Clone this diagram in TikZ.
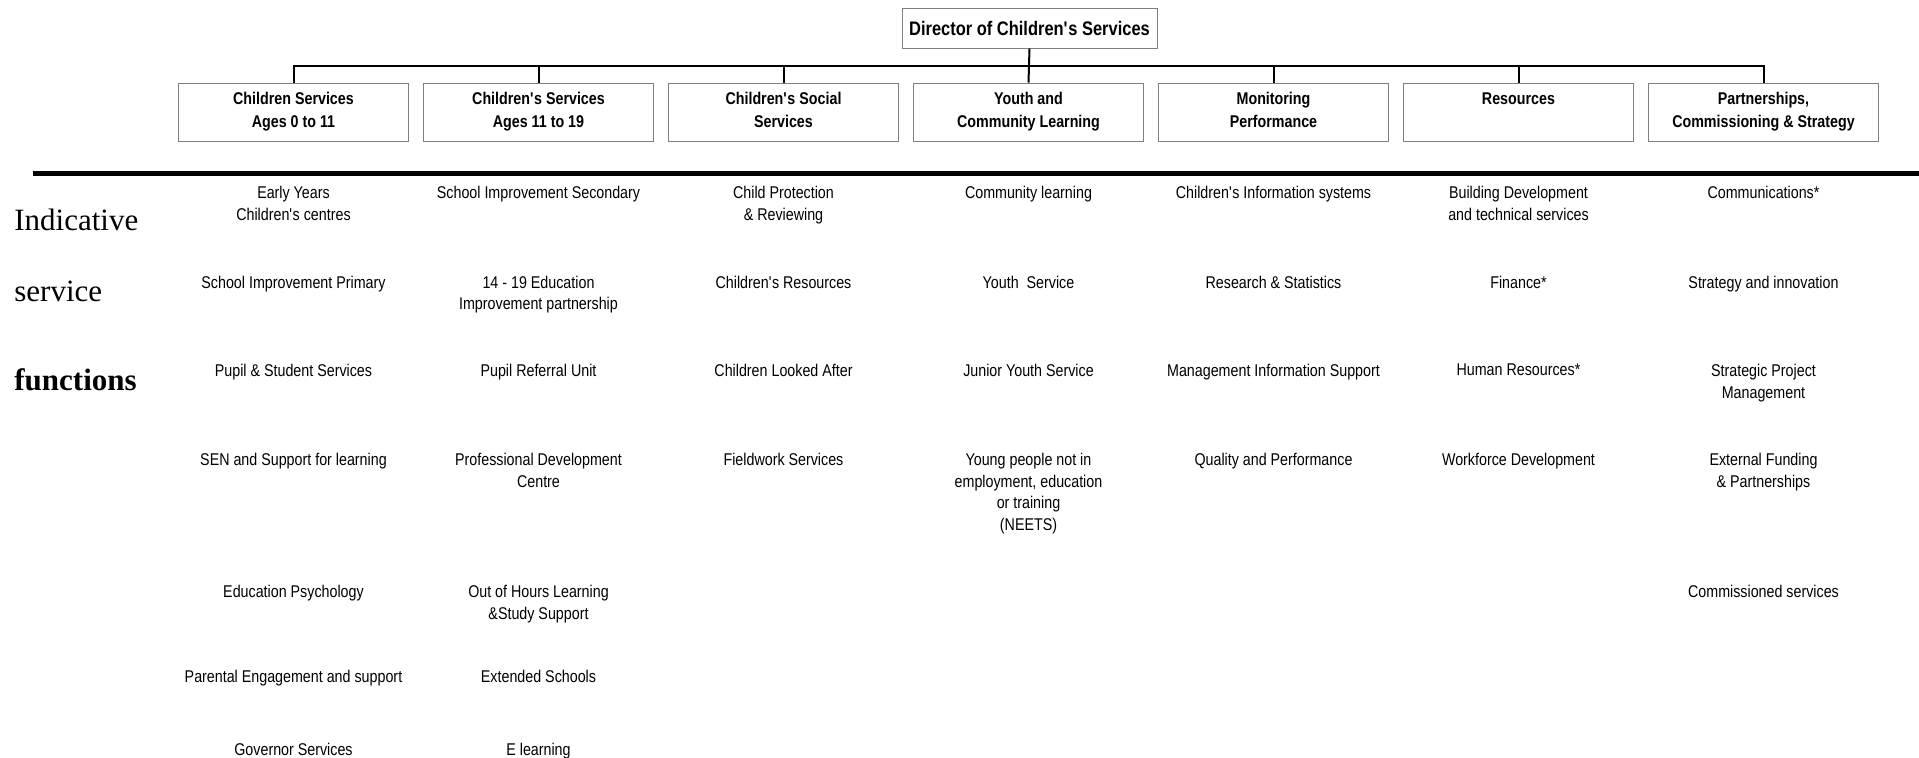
\documentclass[tikz,border=0pt]{standalone}
\usepackage{fontspec}
\setmainfont[FakeStretch=0.84]{Liberation Sans}
\newfontfamily\sidefont{Liberation Serif}
\usepackage{tikz}
\usetikzlibrary{positioning}
\definecolor{BoxGrey}{HTML}{808080}
% straight apostrophe, as typed
\newcommand{\apos}{\textquotesingle}

\begin{document}
\begin{tikzpicture}[
    x=0.5pt, y=-0.5pt,
    node distance=7pt,
    dirbox/.style={draw=BoxGrey, line width=0.5pt, minimum width=127.5pt, minimum height=20pt, inner sep=2pt, font=\fontsize{9.8}{12}\selectfont\bfseries},
    head/.style={draw=BoxGrey, line width=0.5pt, minimum width=115pt, minimum height=29pt, inner sep=2pt, align=center, font=\fontsize{8.5}{11.5}\selectfont\bfseries, execute at end node={\vphantom{g}}},
    item/.style={anchor=north, inner sep=0pt, align=center, font=\fontsize{8.5}{10.8}\selectfont},
    side/.style={anchor=base west, inner sep=0pt, font=\sidefont\fontsize{15.5}{18}\selectfont},
    link/.style={line width=1pt},
    rule/.style={line width=2.5pt}
  ]
    \useasboundingbox (0,0) rectangle (1919,757);

    % head of service and the seven divisions
    \node[dirbox] (dir) at (1029.5,28) {Director of Children\apos s Services};

    \node[head] (ages0) at (293.5,112) {Children Services\\Ages 0 to 11};
    \node[head, right=of ages0] (ages11) {Children\apos s Services\\Ages 11 to 19};
    \node[head, right=of ages11] (social) {Children\apos s Social\\Services};
    \node[head, right=of social] (youth) {Youth and\\Community Learning};
    \node[head, right=of youth] (monitor) {Monitoring\\Performance};
    \node[head, right=of monitor] (res) {Resources\\~};
    \node[head, right=of res] (pcs) {Partnerships,\\Commissioning \& Strategy};

    \coordinate (bus) at (0,66);
    \draw[link] (ages0.north) -- (ages0.north |- bus) -- (pcs.north |- bus) -- (pcs.north);
    \draw[link] (dir.south) -- (youth.north);
    \draw[link] (ages11.north |- bus) -- (ages11.north);
    \draw[link] (social.north |- bus) -- (social.north);
    \draw[link] (monitor.north |- bus) -- (monitor.north);
    \draw[link] (res.north |- bus) -- (res.north);

    % heavy divider
    \coordinate (ruleL) at (33,173.5);
    \coordinate (ruleR) at (1919,173.5);
    \draw[rule] (ruleL) -- (ruleR);

    \node[side] (ind) at (14,230) {Indicative};
    \node[side] (serv) at (14,301.7) {service};
    \node[side] (func) at (14,390) {\bfseries functions};

    % rows of functions
    \coordinate (r1) at (0,186.1);
    \coordinate (r2) at (0,275.5);
    \coordinate (r3) at (0,363.8);
    \coordinate (r4) at (0,452.8);
    \coordinate (r5) at (0,585.1);
    \coordinate (r6) at (0,669.5);
    \coordinate (r7) at (0,742.8);

    \node[item] (early) at (ages0 |- r1) {Early Years\\Children\apos s centres};
    \node[item] (sip) at (ages0 |- r2) {School Improvement Primary};
    \node[item] (pupil) at (ages0 |- r3) {Pupil \& Student Services};
    \node[item] (sen) at (ages0 |- r4) {SEN and Support for learning};
    \node[item] (edpsy) at (ages0 |- r5) {Education Psychology};
    \node[item] (parent) at (ages0 |- r6) {Parental Engagement and support};
    \node[item] (gov) at (ages0 |- r7) {Governor Services};

    \node[item] (sis) at (ages11 |- r1) {School Improvement Secondary};
    \node[item] (edu) at (ages11 |- r2) {14 - 19 Education\\Improvement partnership};
    \node[item] (pru) at (ages11 |- r3) {Pupil Referral Unit};
    \node[item] (pdc) at (ages11 |- r4) {Professional Development\\Centre};
    \node[item] (ooh) at (ages11 |- r5) {Out of Hours Learning\\\&Study Support};
    \node[item] (ext) at (ages11 |- r6) {Extended Schools};
    \node[item] (elearn) at (ages11 |- r7) {E learning};

    \node[item] (prot) at (social |- r1) {Child Protection\\\& Reviewing};
    \node[item] (cres) at (social |- r2) {Children\apos s Resources};
    \node[item] (cla) at (social |- r3) {Children Looked After};
    \node[item] (field) at (social |- r4) {Fieldwork Services};

    \node[item] (comm) at (youth |- r1) {Community learning};
    \node[item] (ysvc) at (youth |- r2) {Youth~~Service};
    \node[item] (jys) at (youth |- r3) {Junior Youth Service};
    \node[item] (neet) at (youth |- r4) {Young people not in\\employment, education\\or training\\(NEETS)};

    \node[item] (cis) at (monitor |- r1) {Children\apos s Information systems};
    \node[item] (rstat) at (monitor |- r2) {Research \& Statistics};
    \node[item] (mis) at (monitor |- r3) {Management Information Support};
    \node[item] (qual) at (monitor |- r4) {Quality and Performance};

    \node[item] (build) at (res |- r1) {Building Development\\and technical services};
    \node[item] (fin) at (res |- r2) {Finance*};
    \node[item] (hr) at (res |- r3) {Human Resources*};
    \node[item] (wfd) at (res |- r4) {Workforce Development};

    \node[item] (comms) at (pcs |- r1) {Communications*};
    \node[item] (strat) at (pcs |- r2) {Strategy and innovation};
    \node[item] (spm) at (pcs |- r3) {Strategic Project\\Management};
    \node[item] (extf) at (pcs |- r4) {External Funding\\\& Partnerships};
    \node[item] (cserv) at (pcs |- r5) {Commissioned services};
  \end{tikzpicture}
\end{document}
